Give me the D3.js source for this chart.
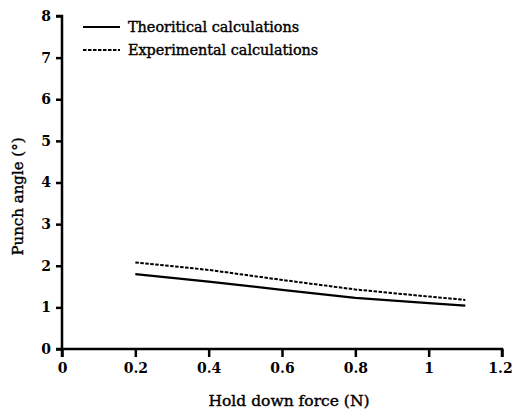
<!DOCTYPE html>
<html>
<head>
<meta charset="utf-8">
<script src="https://cdn.jsdelivr.net/npm/d3@7"></script>
<style>
  body { margin: 0; background: #fff; }
</style>
</head>
<body>
<svg id="chart" width="513" height="413"></svg>
<script>
// data
var forces = [0.2, 0.4, 0.6, 0.8, 1.0, 1.1];
var theoretical = [1.80, 1.62, 1.42, 1.23, 1.10, 1.04];
var experimental = [2.08, 1.90, 1.66, 1.43, 1.26, 1.18];
var xTicks = [0, 0.2, 0.4, 0.6, 0.8, 1, 1.2];
var yTicks = [0, 1, 2, 3, 4, 5, 6, 7, 8];
var seriesNames = ["Theoritical calculations", "Experimental calculations"];

var serif = "'DejaVu Serif', serif";

var margin = {top: 16, right: 11, bottom: 64, left: 62},
  width = 513 - margin.left - margin.right,
  height = 413 - margin.top - margin.bottom;

var svg = d3.select("#chart")
  .append("g")
  .attr("transform", "translate(" + margin.left + "," + margin.top + ")");

var x = d3.scaleLinear().domain([0, 1.2]).range([0, width]);
var y = d3.scaleLinear().domain([0, 8]).range([height, 0]);

// x axis
var xAxis = svg.append("g")
  .attr("transform", "translate(0," + height + ")")
  .call(d3.axisBottom(x)
    .tickValues(xTicks)
    .tickSize(8)
    .tickPadding(6)
    .tickFormat(function(d) { return d3.format("")(+d.toFixed(1)); }));

// y axis
var yAxis = svg.append("g")
  .call(d3.axisLeft(y)
    .tickValues(yTicks)
    .tickSize(6)
    .tickPadding(5));

svg.selectAll(".domain")
  .attr("stroke", "#000")
  .attr("stroke-width", 2.5);
svg.selectAll(".tick line")
  .attr("stroke", "#000")
  .attr("stroke-width", 2.5);
svg.selectAll(".tick text")
  .style("font-family", serif)
  .style("font-size", "14px")
  .style("font-weight", "bold")
  .attr("fill", "#000");

// last x label sits against the right edge
xAxis.selectAll(".tick text")
  .filter(function(d) { return d == 1.2; })
  .attr("dx", -2);

// remove the outer tick bits so the axes look like the original
xAxis.select(".domain").attr("d", "M0,8V0H" + width + "V8");
yAxis.select(".domain").attr("d", "M-6,0H0V" + height + "H-6");

// axis titles (a thin stroke makes them a bit heavier, like the scan)
svg.append("text")
  .attr("x", width / 2 + 7)
  .attr("y", height + 57)
  .attr("text-anchor", "middle")
  .attr("stroke", "#000")
  .attr("stroke-width", 0.4)
  .style("font-family", serif)
  .style("font-size", "15.5px")
  .text("Hold down force (N)");

svg.append("text")
  .attr("transform", "translate(" + (-39) + "," + (height / 2 + 14) + ") rotate(-90)")
  .attr("text-anchor", "middle")
  .attr("stroke", "#000")
  .attr("stroke-width", 0.4)
  .style("font-family", serif)
  .style("font-size", "15px")
  .text("Punch angle (°)");

// lines
var line = d3.line()
  .x(function(d) { return x(d[0]); })
  .y(function(d) { return y(d[1]); });

svg.append("path")
  .datum(d3.zip(forces, theoretical))
  .attr("fill", "none")
  .attr("stroke", "#000")
  .attr("stroke-width", 2.2)
  .attr("d", line);

svg.append("path")
  .datum(d3.zip(forces, experimental))
  .attr("fill", "none")
  .attr("stroke", "#000")
  .attr("stroke-width", 2)
  .attr("stroke-dasharray", "3.5,1.5")
  .attr("d", line);

// legend
var legend = svg.append("g")
  .attr("transform", "translate(21,11)");

legend.selectAll("line")
  .data(seriesNames)
  .enter()
  .append("line")
  .attr("x1", 0)
  .attr("x2", 37)
  .attr("y1", function(d, i) { return i * 23; })
  .attr("y2", function(d, i) { return i * 23; })
  .attr("stroke", "#000")
  .attr("stroke-width", 2)
  .attr("stroke-dasharray", function(d, i) { return i == 1 ? "3.5,1.5" : null; });

legend.selectAll("text")
  .data(seriesNames)
  .enter()
  .append("text")
  .attr("x", 45)
  .attr("y", function(d, i) { return i * 23 + 5; })
  .attr("stroke", "#000")
  .attr("stroke-width", 0.4)
  .style("font-family", serif)
  .style("font-size", "14.4px")
  .text(function(d) { return d; });
</script>
</body>
</html>
